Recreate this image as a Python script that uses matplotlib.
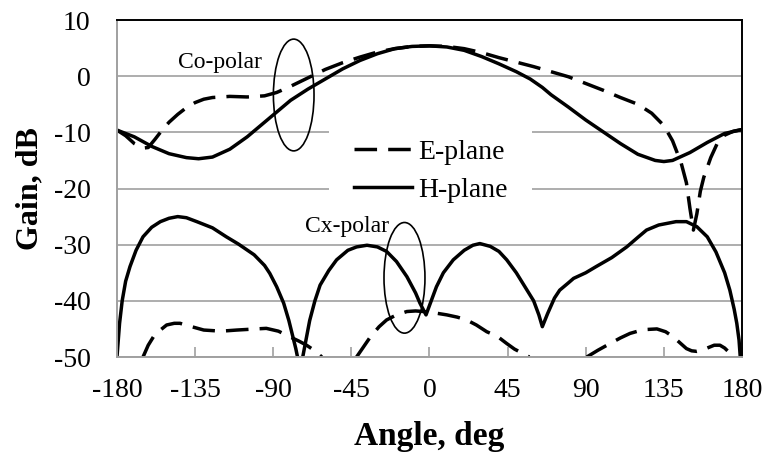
import numpy as np
import matplotlib
matplotlib.use("Agg")
from matplotlib import pyplot as plt
from matplotlib.patches import Ellipse

plt.rcParams['font.family'] = ['Liberation Serif', 'DejaVu Serif']

# co-polar patterns
h_co_ang = np.array([-180, -170, -160, -150, -140, -133, -125, -115, -105, -95, -90, -80, -70, -60, -50,
                     -40, -30, -20, -10, 0, 10, 20, 30, 40, 50, 58, 65, 70, 80, 90, 100, 110, 120, 130,
                     135, 140, 150, 160, 170, 180])
h_co_gain = np.array([-9.6, -10.8, -12.5, -13.8, -14.5, -14.7, -14.4, -13.0, -10.8, -8.2, -6.9, -4.3, -2.3,
                      -0.5, 1.3, 2.8, 4.0, 4.9, 5.3, 5.4, 5.2, 4.6, 3.5, 2.2, 0.8, -0.5, -2.0, -3.3, -5.5,
                      -7.8, -9.9, -12.0, -13.9, -15.0, -15.2, -15.0, -13.6, -11.8, -10.2, -9.5])

e_co_ang = np.array([-180, -175, -170, -165, -162, -158, -154, -150, -145, -140, -135, -130, -125, -115,
                     -105, -95, -88, -80, -70, -60, -50, -40, -30, -20, -10, 0, 10, 20, 30, 40, 50, 60,
                     70, 80, 90, 100, 110, 120, 128, 135, 140, 145, 148, 150, 152, 154, 156, 158, 162,
                     166, 170, 175, 180])
e_co_gain = np.array([-9.6, -10.6, -12.0, -12.8, -12.7, -11.2, -9.6, -8.2, -6.8, -5.6, -4.7, -4.1, -3.8,
                      -3.6, -3.7, -3.5, -2.9, -1.8, -0.3, 1.2, 2.4, 3.4, 4.3, 4.9, 5.3, 5.4, 5.3, 4.9, 4.2,
                      3.3, 2.5, 1.7, 0.8, -0.1, -1.3, -2.5, -3.8, -5.0, -6.6, -8.8, -11.5, -15.5, -19.0,
                      -23.5, -27.4, -24.5, -20.5, -18.0, -14.5, -11.8, -10.5, -9.8, -9.5])

# cross-polar patterns (nan where the curve drops below the axis)
h_cx_ang = np.array([-180, -178.5, -177, -175, -172.5, -169, -165, -160, -155, -150, -145, -140, -134,
                     -125, -117, -110, -101, -95, -92, -88, -84, -81, -79, -77, -76, np.nan,
                     -73, -69, -66, -63, -58, -53.5, -47, -42, -36, -30, -24.7, -19, -13, -8, -5.5, -2,
                     1, 4, 8, 13.7, 20, 25, 29, 35, 40, 44.5, 50, 55, 60, 63, 65, 68, 72, 75, 80, 83, 90,
                     96, 105, 113.6, 120, 125, 132, 142, 148, 154, 160, 165, 170, 173, 175.5, 177, 178.3,
                     179])
h_cx_gain = np.array([-50, -44, -40, -36.5, -33.9, -31, -28.6, -26.9, -25.9, -25.3, -25.0, -25.2, -25.9,
                      -27.0, -28.6, -29.9, -31.8, -33.7, -35.1, -37.5, -40.4, -43.5, -46, -48.5, -50,
                      np.nan, -50, -43.5, -40, -37.2, -34.6, -32.7, -31.0, -30.4, -30.1, -30.4, -31.2,
                      -33.0, -35.7, -38.6, -40.4, -42.5, -40.0, -37.5, -35.0, -32.7, -31.0, -30.1, -29.8,
                      -30.3, -31.2, -32.7, -35.0, -37.5, -40.0, -42.5, -44.6, -42.3, -39.5, -38.1, -36.8,
                      -36.0, -35.0, -33.9, -32.3, -30.4, -28.7, -27.4, -26.5, -25.9, -25.9, -26.8, -28.6,
                      -31.3, -35.0, -38.1, -41.5, -44, -47, -50])

e_cx_ang = np.array([-165, -162, -159, -155, -151.4, -147, -143.7, -137, -130, -120, -111, -100, -94, -87,
                     -80.4, -75, -70.8, -66, -62, np.nan,
                     -42, -38, -34, -29, -24.7, -19, -13, -8, -3.6, 2, 10, 16, 21.4, 27, 33, 39, 44.5, 49,
                     54, 57.5, np.nan,
                     90.6, 97, 104, 110, 115.5, 120, 125, 131, 136, 140.4, 144, 148, 151, 154, 157, 160,
                     164, 167.3, 170, 173, 175.5])
e_cx_gain = np.array([-50, -47.9, -46.4, -45.2, -44.3, -44.0, -44.0, -44.6, -45.2, -45.4, -45.2, -45.0,
                      -44.9, -45.4, -46.4, -47.2, -47.9, -48.9, -50, np.nan,
                      -50, -48.2, -46.4, -44.6, -43.4, -42.5, -41.9, -41.8, -41.9, -42.1, -42.5, -42.9,
                      -43.4, -44.3, -45.5, -46.3, -47.6, -48.6, -49.4, -50, np.nan,
                      -50, -48.8, -47.6, -46.6, -45.8, -45.4, -45.1, -45.0, -45.5, -46.4, -47.4, -48.5,
                      -48.9, -49.0, -48.8, -48.4, -47.9, -47.9, -48.4, -49.3, -50])

x_ticks = np.arange(-180, 181, 45)
y_ticks = np.arange(-50, 11, 10)

fig = plt.figure(figsize=(7.67, 4.57), dpi=100)
ax = fig.add_axes([0.1525, 0.2188, 0.8149, 0.7374])

dash = (6.5, 3.2)
lw = 2.5
ax.plot(e_co_ang, e_co_gain, color='black', lw=lw, dashes=dash, label='E-plane')
ax.plot(h_co_ang, h_co_gain, color='black', lw=lw, label='H-plane')
ax.plot(e_cx_ang, e_cx_gain, color='black', lw=lw, dashes=dash)
ax.plot(h_cx_ang, h_cx_gain, color='black', lw=lw)

ax.add_patch(Ellipse((-78.2, -3.35), 23.4, 19.9, fill=False, lw=1.2, color='black', zorder=3))
ax.add_patch(Ellipse((-14.4, -35.9), 23.6, 19.7, fill=False, lw=1.2, color='black', zorder=3))
ax.text(-144.6, 1.5, 'Co-polar', fontsize=17, ha='left', va='baseline', zorder=6)
ax.text(-71.7, -27.7, 'Cx-polar', fontsize=17, ha='left', va='baseline', zorder=6)

ax.set_xlim(-180, 180)
ax.set_ylim(-50, 10)
ax.set_xticks(x_ticks)
ax.set_yticks(y_ticks)
ax.set_xticklabels([str(v) for v in x_ticks])
ax.set_yticklabels([str(v) for v in y_ticks])
ax.tick_params(axis='x', direction='in', length=7, width=1.2, color='#a0a0a0', labelsize=20, pad=15)
ax.tick_params(axis='y', length=0, labelsize=20, pad=19)

ax.yaxis.grid(True, color='#a0a0a0', lw=1.2)
ax.set_axisbelow(True)
for s in ['top', 'right']:
    ax.spines[s].set_color('black')
    ax.spines[s].set_linewidth(1.4)
for s in ['left', 'bottom']:
    ax.spines[s].set_color('#a0a0a0')
    ax.spines[s].set_linewidth(1.4)

ax.set_xlabel('Angle, deg', fontsize=24, fontweight='bold')
ax.set_ylabel('Gain, dB', fontsize=23, fontweight='bold')
ax.xaxis.label.set_va('center')
ax.yaxis.label.set_va('center')
ax.xaxis.set_label_coords(0.5, -0.237)
ax.yaxis.set_label_coords(-0.14, 0.4985)

leg = ax.legend(loc='center', bbox_to_anchor=(0.502, 0.552), fontsize=20, frameon=True,
                handlelength=2.1, handletextpad=0.2, labelspacing=0.45, borderpad=0.9)
leg.get_frame().set_edgecolor('none')
leg.get_frame().set_facecolor('white')
leg.get_frame().set_alpha(1)
leg.set_zorder(1)

fig.savefig('out.png', dpi=100)
